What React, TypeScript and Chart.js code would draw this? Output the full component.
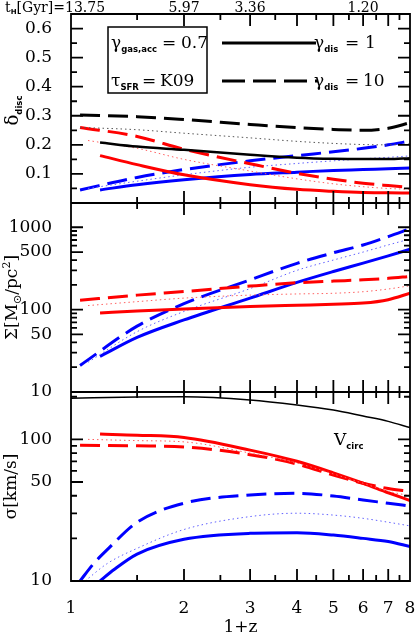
import React, { useEffect, useRef } from "react";
import { Chart, registerables } from "chart.js";

Chart.register(...registerables);

// ---------- data ----------
const xSolid = [1.195, 1.5, 2, 3, 4, 5, 6, 7, 8];
const xDashed = [1.057, 1.5, 2, 3, 4, 5, 6, 7, 8];
const xDotted = [1.11, 1.5, 2, 3, 4, 5, 6, 7, 8];
const xVcirc = [1, 1.5, 2, 3, 4, 5, 6, 7, 8];
const xSigBlueDashed = [1.057, 1.15, 1.245, 1.5, 2, 3, 4, 5, 6, 7, 8];
const xSigBlueSolid = [1.195, 1.3, 1.5, 2, 3, 4, 5, 6, 7, 8];
const xSigBlueDotted = [1.09, 1.25, 1.5, 2, 3, 4, 5, 6, 7, 8];

const dBlackDashed = [0.303, 0.297, 0.287, 0.27, 0.259, 0.253, 0.25, 0.257, 0.276];
const dBlackSolid = [0.208, 0.194, 0.183, 0.166, 0.156, 0.152, 0.151, 0.151, 0.154];
const dBlackDotted = [0.26, 0.252, 0.24, 0.224, 0.212, 0.205, 0.201, 0.2, 0.203];
const dRedDashed = [0.26, 0.229, 0.185, 0.135, 0.102, 0.082, 0.068, 0.06, 0.054];
const dRedSolid = [0.163, 0.132, 0.097, 0.063, 0.047, 0.04, 0.036, 0.035, 0.034];
const dRedDotted = [0.215, 0.188, 0.15, 0.11, 0.083, 0.066, 0.056, 0.05, 0.047];
const dBlueDashed = [0.045, 0.088, 0.115, 0.145, 0.163, 0.176, 0.188, 0.2, 0.213];
const dBlueSolid = [0.045, 0.063, 0.08, 0.098, 0.106, 0.112, 0.115, 0.118, 0.12];
const dBlueDotted = [0.05, 0.075, 0.097, 0.123, 0.136, 0.145, 0.152, 0.157, 0.162];

const sBlueDashed = [21, 63, 118, 230, 365, 490, 610, 770, 960];
const sBlueSolid = [27, 46, 75, 138, 214, 290, 367, 450, 540];
const sBlueDotted = [23, 54, 95, 180, 300, 400, 500, 610, 720];
const sRedDashed = [130, 150, 166, 193, 212, 222, 230, 240, 253];
const sRedSolid = [91, 96, 102, 109, 113, 116, 120, 132, 158];
const sRedDotted = [112, 125, 138, 150, 155, 158, 165, 178, 195];

const vCirc = [195, 199, 200, 190, 175, 161, 146, 134, 121];
const vRedSolid = [109, 107, 103, 84, 70, 58, 49, 42, 37];
const vRedDashed = [91, 90, 88.5, 78, 67, 56, 49, 45, 43];
const vRedDotted = [100, 98, 96, 80, 68, 57, 49, 43, 40];
const vBlueDashed = [10, 13.3, 16.5, 26, 35.4, 40.5, 41.6, 39.8, 37.3, 35.4, 33.8];
const vBlueSolid = [10, 12, 15.5, 19.7, 21.7, 21.9, 21.1, 20.0, 19.0, 17.5];
const vBlueDotted = [10, 13.3, 17, 23.1, 28.5, 30.1, 29.2, 27.7, 26, 24.5];

const xTickLabels = [1, 2, 3, 4, 5, 6, 7, 8];
const xMinorTicks = [1.5, 2.5, 3.5, 4.5, 5.5, 6.5, 7.5];
const topAxisValues = [1, 2, 3, 6];
const topAxisLabels = ["13.75", "5.97", "3.36", "1.20"];
const y1Labels = [0.1, 0.2, 0.3, 0.4, 0.5, 0.6];
const y1Minor = [0.05, 0.15, 0.25, 0.35, 0.45, 0.55, 0.65];
const y2Labels = [10, 50, 100, 500, 1000];
const y2Minor = [20, 30, 40, 60, 70, 80, 90, 200, 300, 400, 600, 700, 800, 900];
const y3Labels = [10, 50, 100];
const y3Minor = [20, 30, 40, 60, 70, 80, 90, 200];

// ---------- styles ----------
const RED = "#ff0000";
const BLUE = "#0000ff";
const BLACK = "#000000";
const DASH = [20, 8];
const DOT = [1.5, 3];
const SERIF = '"DejaVu Serif"';
const F_MAIN = `17px ${SERIF}`;
const F_SUB = 'bold 8.5px "DejaVu Sans"';

type Part = { t: string; font: string; dy?: number; dx?: number };

function richWidth(ctx: CanvasRenderingContext2D, parts: Part[]) {
  let w = 0;
  for (const p of parts) {
    ctx.font = p.font;
    w += ctx.measureText(p.t).width + (p.dx || 0);
  }
  return w;
}
function drawRich(ctx: CanvasRenderingContext2D, parts: Part[], x: number, y: number) {
  let cx = x;
  for (const p of parts) {
    ctx.font = p.font;
    cx += p.dx || 0;
    ctx.fillText(p.t, cx, y + (p.dy || 0));
    cx += ctx.measureText(p.t).width;
  }
}

function mk(xs: number[], ys: number[]) {
  return xs.map((x, i) => ({ x, y: ys[i] }));
}

function ds(xs: number[], ys: number[], axis: string, color: string, kind: "solid" | "dashed" | "dotted", width?: number) {
  return {
    data: mk(xs, ys),
    yAxisID: axis,
    xAxisID: "x",
    borderColor: kind === "dotted" ? (color === RED ? "#ff6060" : color === BLUE ? "#6060ff" : "#555555") : color,
    borderWidth: width ?? (kind === "dotted" ? 1 : 3),
    borderDash: kind === "dashed" ? DASH : kind === "dotted" ? DOT : [],
    borderCapStyle: "butt",
    pointRadius: 0,
    fill: false,
    cubicInterpolationMode: "monotone",
  };
}

const overlay = {
  id: "overlay",
  afterDraw(chart: any) {
    const ctx: CanvasRenderingContext2D = chart.ctx;
    const xs = chart.scales.x;
    const panels = [
      { s: chart.scales.y1, major: y1Labels, minor: y1Minor },
      { s: chart.scales.y2, major: y2Labels, minor: y2Minor },
      { s: chart.scales.y3, major: y3Labels, minor: y3Minor },
    ];
    const L = xs.left;
    const R = xs.right;
    ctx.save();
    ctx.setLineDash([]);
    ctx.globalAlpha = 1;
    ctx.strokeStyle = BLACK;
    ctx.fillStyle = BLACK;
    ctx.lineWidth = 1.8;
    ctx.lineCap = "butt";
    ctx.beginPath();
    for (const p of panels) {
      const s = p.s;
      const top = s.top;
      const bot = s.bottom;
      ctx.rect(L, top, R - L, bot - top);
      const all = xTickLabels.concat(xMinorTicks);
      for (let i = 0; i < all.length; i++) {
        const px = xs.getPixelForValue(all[i]);
        const len = i < xTickLabels.length ? 12 : 6;
        ctx.moveTo(px, top);
        ctx.lineTo(px, top + len);
        ctx.moveTo(px, bot);
        ctx.lineTo(px, bot - len);
      }
      const yall = p.major.concat(p.minor);
      for (let i = 0; i < yall.length; i++) {
        const py = s.getPixelForValue(yall[i]);
        const len = i < p.major.length ? 12 : 6;
        if (!(py >= top - 0.5 && py <= bot + 0.5)) continue;
        ctx.moveTo(L, py);
        ctx.lineTo(L + len, py);
        ctx.moveTo(R, py);
        ctx.lineTo(R - len, py);
      }
    }
    ctx.stroke();

    ctx.textBaseline = "alphabetic";
    ctx.textAlign = "left";
    const topY = 12;
    const TF = `14px ${SERIF}`;
    const pre: Part[] = [
      { t: "t", font: TF },
      { t: "H", font: 'bold 7px "DejaVu Sans"', dy: 2 },
      { t: "[Gyr]=", font: TF },
    ];
    const x0 = xs.getPixelForValue(topAxisValues[0]);
    drawRich(ctx, pre, x0 - 6 - richWidth(ctx, pre), topY);
    ctx.font = TF;
    ctx.fillText(topAxisLabels[0], x0 - 6, topY);
    ctx.textAlign = "center";
    for (let i = 1; i < topAxisValues.length; i++) {
      ctx.fillText(topAxisLabels[i], xs.getPixelForValue(topAxisValues[i]), topY);
    }
    ctx.textAlign = "left";

    const titles: { parts: Part[]; bx: number; cy: number }[] = [
      { parts: [{ t: "δ", font: `18px ${SERIF}` }, { t: "disc", font: F_SUB, dy: 4 }], bx: 18, cy: (panels[0].s.top + panels[0].s.bottom) / 2 + 2 },
      {
        parts: [
          { t: "Σ[M", font: F_MAIN },
          { t: "⊙", font: '11px "DejaVu Sans"', dy: 4 },
          { t: "/pc", font: F_MAIN },
          { t: "2", font: `11px ${SERIF}`, dy: -7 },
          { t: "]", font: F_MAIN },
        ],
        bx: 17,
        cy: (panels[1].s.top + panels[1].s.bottom) / 2,
      },
      { parts: [{ t: "σ[km/s]", font: F_MAIN }], bx: 16, cy: (panels[2].s.top + panels[2].s.bottom) / 2 },
    ];
    for (const t of titles) {
      ctx.save();
      ctx.translate(t.bx, t.cy);
      ctx.rotate(-Math.PI / 2);
      drawRich(ctx, t.parts, -richWidth(ctx, t.parts) / 2, 0);
      ctx.restore();
    }

    ctx.font = F_MAIN;
    ctx.textAlign = "center";
    ctx.fillText("1+z", (L + R) / 2, 632);
    ctx.textAlign = "left";

    ctx.lineWidth = 1.5;
    ctx.strokeRect(108, 27, 99, 66);
    drawRich(ctx, [{ t: "γ", font: F_MAIN }, { t: "gas,acc", font: F_SUB, dy: 4 }], 111, 48);
    ctx.font = F_MAIN;
    ctx.fillText("=", 162, 48);
    ctx.fillText("0.7", 181, 48);
    drawRich(ctx, [{ t: "τ", font: F_MAIN }, { t: "SFR", font: F_SUB, dy: 4 }], 111, 86);
    ctx.font = F_MAIN;
    ctx.fillText("=", 142, 86);
    ctx.fillText("K09", 160, 86);

    ctx.lineWidth = 3;
    ctx.beginPath();
    ctx.moveTo(222, 43);
    ctx.lineTo(316, 43);
    ctx.stroke();
    ctx.setLineDash([23, 8]);
    ctx.beginPath();
    ctx.moveTo(222, 81);
    ctx.lineTo(318, 81);
    ctx.stroke();
    ctx.setLineDash([]);
    drawRich(ctx, [{ t: "γ", font: F_MAIN }, { t: "dis", font: F_SUB, dy: 4 }], 314, 48);
    ctx.font = F_MAIN;
    ctx.fillText("=", 345, 48);
    ctx.fillText("1", 365, 48);
    drawRich(ctx, [{ t: "γ", font: F_MAIN }, { t: "dis", font: F_SUB, dy: 4 }], 314, 86);
    ctx.font = F_MAIN;
    ctx.fillText("=", 345, 86);
    ctx.fillText("10", 363, 86);

    drawRich(ctx, [{ t: "V", font: F_MAIN }, { t: "circ", font: F_SUB, dy: 4 }], 334, 445);
    ctx.restore();
  },
};

const near = (v: number, list: number[]) => list.some((t) => Math.abs(v - t) < 1e-6 * Math.max(1, t));

export default function App() {
  const ref = useRef<HTMLCanvasElement | null>(null);
  useEffect(() => {
    if (!ref.current) return;
    const tickFont = { family: "DejaVu Serif", size: 17 };
    const yFit = (s: any) => {
      s.width = 71;
      s.paddingTop = 0;
      s.paddingBottom = 0;
    };
    const yTicks = (labels: number[], fmt: (v: number) => string) => ({
      autoSkip: false,
      padding: 11,
      color: BLACK,
      font: tickFont,
      callback: (v: any) => (near(Number(v), labels) ? fmt(Number(v)) : ""),
    });
    const chart = new Chart(ref.current, {
      type: "line",
      data: {
        datasets: [
          ds(xDashed, dBlackDotted, "y1", BLACK, "dotted"),
          ds(xDashed, dBlackDashed, "y1", BLACK, "dashed"),
          ds(xSolid, dBlackSolid, "y1", BLACK, "solid", 2.5),
          ds(xDotted, dRedDotted, "y1", RED, "dotted"),
          ds(xDashed, dRedDashed, "y1", RED, "dashed"),
          ds(xSolid, dRedSolid, "y1", RED, "solid"),
          ds(xDotted, dBlueDotted, "y1", BLUE, "dotted"),
          ds(xDashed, dBlueDashed, "y1", BLUE, "dashed"),
          ds(xSolid, dBlueSolid, "y1", BLUE, "solid"),

          ds(xDotted, sRedDotted, "y2", RED, "dotted"),
          ds(xDashed, sRedDashed, "y2", RED, "dashed"),
          ds(xSolid, sRedSolid, "y2", RED, "solid"),
          ds(xDotted, sBlueDotted, "y2", BLUE, "dotted"),
          ds(xDashed, sBlueDashed, "y2", BLUE, "dashed"),
          ds(xSolid, sBlueSolid, "y2", BLUE, "solid"),

          ds(xVcirc, vCirc, "y3", BLACK, "solid", 1.5),
          ds(xDotted, vRedDotted, "y3", RED, "dotted"),
          ds(xDashed, vRedDashed, "y3", RED, "dashed"),
          ds(xSolid, vRedSolid, "y3", RED, "solid"),
          ds(xSigBlueDotted, vBlueDotted, "y3", BLUE, "dotted"),
          ds(xSigBlueDashed, vBlueDashed, "y3", BLUE, "dashed"),
          ds(xSigBlueSolid, vBlueSolid, "y3", BLUE, "solid"),
        ] as any,
      },
      options: {
        animation: false,
        responsive: false,
        maintainAspectRatio: false,
        layout: { padding: { left: 0, right: 6, top: 14, bottom: 0 } },
        plugins: { legend: { display: false }, tooltip: { enabled: false }, title: { display: false } },
        elements: { line: { tension: 0 } },
        scales: {
          x: {
            type: "logarithmic",
            position: "bottom",
            min: 1,
            max: 8,
            grid: { display: false },
            border: { display: false },
            ticks: {
              autoSkip: false,
              maxRotation: 0,
              padding: 9,
              color: BLACK,
              font: tickFont,
              callback: (v: any) => (near(Number(v), xTickLabels) ? String(Math.round(Number(v))) : ""),
            },
            afterFit: (s: any) => {
              s.height = 53;
              s.paddingLeft = 0;
              s.paddingRight = 0;
            },
          },
          y3: {
            type: "logarithmic",
            position: "left",
            stack: "panels",
            stackWeight: 1,
            weight: 1,
            min: 10,
            max: 216,
            grid: { display: false },
            border: { display: false },
            ticks: yTicks(y3Labels, (v) => String(Math.round(v))),
            afterFit: yFit,
          },
          y2: {
            type: "logarithmic",
            position: "left",
            stack: "panels",
            stackWeight: 1,
            weight: 2,
            min: 10,
            max: 1970,
            grid: { display: false },
            border: { display: false },
            ticks: yTicks(y2Labels, (v) => String(Math.round(v))),
            afterFit: yFit,
          },
          y1: {
            type: "linear",
            position: "left",
            stack: "panels",
            stackWeight: 1,
            weight: 3,
            min: 0,
            max: 0.65,
            grid: { display: false },
            border: { display: false },
            ticks: { ...yTicks(y1Labels, (v) => v.toFixed(1)), stepSize: 0.05 },
            afterFit: yFit,
          },
        },
      } as any,
      plugins: [overlay],
    });
    return () => chart.destroy();
  }, []);
  return (
    <div style={{ position: "fixed", left: 0, top: 0, width: 416, height: 634, background: "#fff" }}>
      <canvas ref={ref} width={416} height={634} style={{ display: "block", width: 416, height: 634 }} />
    </div>
  );
}
